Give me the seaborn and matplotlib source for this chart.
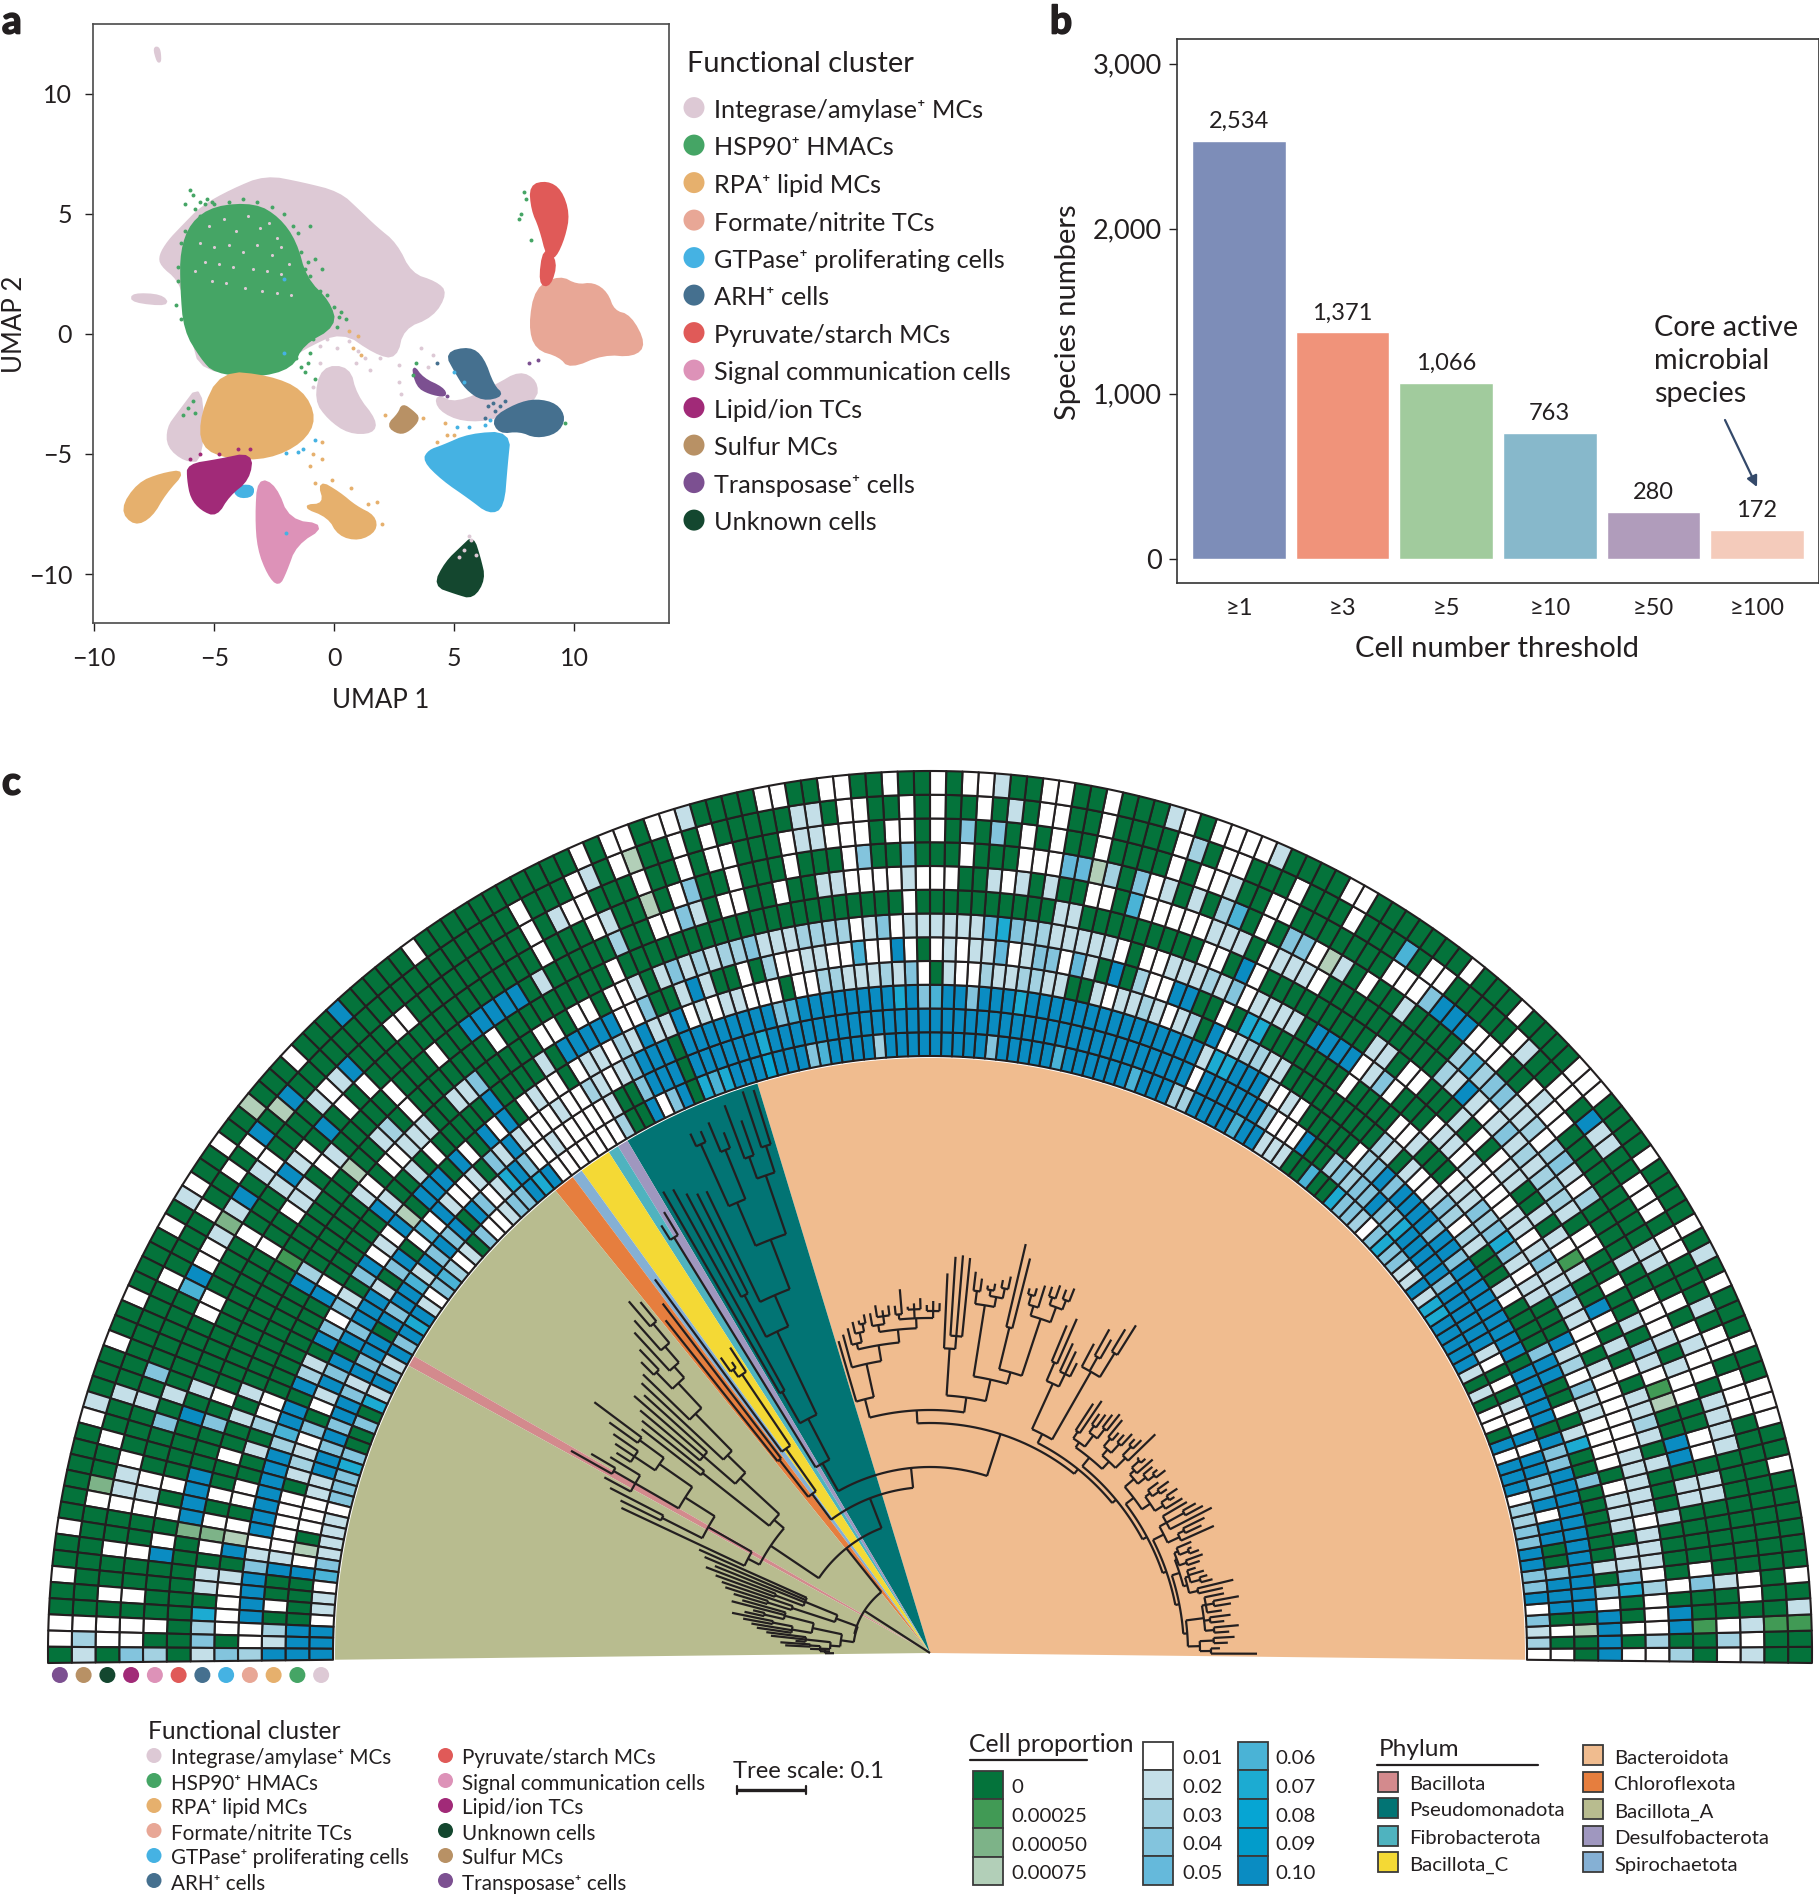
import numpy as np
import pandas as pd
import matplotlib
matplotlib.use("Agg")
import matplotlib.pyplot as plt
import matplotlib.patheffects as pe
import seaborn as sns
from matplotlib.patches import Polygon, Rectangle, Wedge
from matplotlib.collections import PatchCollection, LineCollection

# =========================================================
# CLUSTERS (panel a + both legends)
# =========================================================

CLUSTER_NAMES = ["Integrase/amylase⁺ MCs", "HSP90⁺ HMACs", "RPA⁺ lipid MCs",
                 "Formate/nitrite TCs", "GTPase⁺ proliferating cells", "ARH⁺ cells",
                 "Pyruvate/starch MCs", "Signal communication cells", "Lipid/ion TCs",
                 "Sulfur MCs", "Transposase⁺ cells", "Unknown cells"]
CLUSTER_COLORS = ["#ddc9d5", "#45a565", "#e6b06d", "#e8a796", "#45b2e3", "#45708f",
                  "#e05a58", "#dd92b8", "#a12a78", "#b89165", "#7c5091", "#14472f"]
# which cluster each ring shows, from the tree outwards
RING_CLUSTERS = [0, 1, 2, 3, 4, 5, 6, 7, 8, 11, 9, 10]

INTEGRASE_MAIN = [(-7.25, 3.26), (-6.9, 3.84), (-6.35, 4.42), (-5.5, 5.29), (-4.27, 5.97), (-2.87, 6.55),
                  (-1.34, 6.26), (0.2, 5.87), (1.03, 5.1), (1.73, 4.42), (2.57, 3.74), (3.18, 2.48),
                  (4.24, 2.13), (4.66, 1.7), (4.1, 0.74), (2.85, 0.25), (2.57, -1.0), (1.73, -0.81),
                  (0.33, 0.16), (-1.34, -0.62), (-2.73, -1.59), (-5.52, -1.59), (-5.94, -0.04),
                  (-6.22, 1.51), (-6.5, 2.29), (-7.2, 2.87)]
INTEGRASE_TAIL = [(-8.4, 1.65), (-7.2, 1.6), (-6.9, 1.2), (-8.4, 1.35)]
INTEGRASE_SPECK = [(-7.5, 11.9), (-7.3, 11.9), (-7.25, 11.35), (-7.35, 11.35)]
INTEGRASE_LOWER = [(-6.92, -3.91), (-6.5, -3.33), (-5.5, -2.0), (-5.5, -5.27), (-6.22, -5.27), (-6.92, -4.69)]
INTEGRASE_MID = [(-0.5, -1.4), (0.61, -1.4), (0.89, -2.56), (1.73, -3.62), (1.59, -4.11), (0.61, -4.11),
                 (-0.22, -3.53), (-0.78, -2.75)]
INTEGRASE_RIGHT = [(4.24, -2.56), (5.08, -2.95), (6.75, -2.17), (7.73, -1.59), (8.42, -1.98), (8.42, -2.75),
                   (6.75, -3.53), (5.36, -3.62), (4.38, -3.16)]
HSP90_BODY = [(-5.94, 4.61), (-4.97, 5.29), (-3.29, 5.39), (-2.32, 4.81), (-1.62, 3.84), (-1.2, 2.29),
              (-0.22, 1.32), (0.06, 0.35), (-1.34, -0.43), (-1.76, -1.4), (-3.29, -1.78), (-4.97, -1.59),
              (-5.52, -1.0), (-6.22, 0.16), (-6.36, 1.91), (-6.36, 3.45)]
RPA_MAIN = [(-4.69, -1.59), (-2.73, -1.78), (-1.34, -2.36), (-0.78, -3.53), (-1.34, -4.5), (-2.73, -5.17),
            (-4.41, -5.17), (-5.52, -4.69), (-5.52, -3.33)]
RPA_LEFT = [(-6.22, -5.7), (-7.2, -5.85), (-8.17, -6.24), (-8.87, -7.31), (-8.32, -7.95), (-7.62, -7.6),
            (-7.06, -6.63)]
RPA_RIGHT = [(-0.64, -6.14), (0.2, -6.63), (0.89, -7.21), (1.67, -7.6), (1.73, -8.18), (1.03, -8.57),
             (0.2, -8.37), (-0.22, -7.6), (-1.34, -7.17), (-0.36, -7.11)]
FORMATE = [(8.42, 1.9), (9.4, 2.38), (10.1, 2.0), (10.8, 2.09), (11.35, 1.7), (11.63, 0.93), (12.33, 0.74),
           (12.94, -0.43), (12.47, -0.91), (11.21, -0.81), (9.82, -1.4), (9.4, -0.91), (8.42, -0.62), (8.15, 0.35)]
GTPASE = [(4.52, -4.69), (5.64, -4.2), (7.31, -4.11), (7.17, -5.47), (7.03, -7.21), (6.47, -7.46),
          (5.64, -6.82), (4.52, -6.05), (3.74, -5.27), (3.96, -4.88)]
GTPASE_PATCH = [(-4.2, -6.4), (-3.4, -6.3), (-3.4, -6.75), (-4.0, -6.8)]
ARH_TOP = [(4.66, -0.81), (5.64, -0.58), (6.19, -1.0), (6.61, -2.17), (7.03, -2.56), (6.19, -2.75),
           (5.5, -2.27), (5.08, -1.59)]
ARH_RIGHT = [(7.59, -2.95), (8.42, -2.75), (9.26, -2.95), (9.6, -3.53), (9.26, -4.11), (8.42, -4.3),
             (7.73, -4.01), (6.89, -4.11), (6.61, -3.53)]
PYRUVATE = [(8.18, 6.16), (8.87, 6.32), (9.43, 5.97), (9.76, 5.0), (9.57, 4.03), (9.2, 3.2), (8.9, 3.2), (8.59, 4.42),
            (8.26, 5.17)]
PYRUVATE_TAIL = [(8.75, 3.6), (9.26, 3.0), (8.98, 2.0), (8.56, 2.1)]
SIGNAL = [(-3.15, -6.05), (-2.46, -6.34), (-1.9, -7.79), (-0.36, -7.98), (-1.62, -8.76), (-2.04, -9.92),
          (-2.32, -10.47), (-2.73, -10.02), (-3.15, -8.95), (-3.24, -7.6)]
LIPID = [(-6.08, -5.47), (-4.83, -5.27), (-3.43, -4.98), (-3.57, -6.05), (-4.41, -6.72), (-4.91, -7.56),
         (-5.52, -7.31), (-5.94, -6.82), (-6.08, -6.05)]
SULFUR = [(2.85, -2.95), (3.26, -3.24), (3.54, -3.53), (3.12, -4.01), (2.71, -4.15), (2.23, -3.82), (2.71, -3.33)]
TRANSPOSASE = [(3.26, -1.3), (3.68, -1.88), (4.52, -2.27), (4.66, -2.6), (3.96, -2.46), (3.46, -2.17)]
UNKNOWN = [(5.77, -8.47), (6.05, -9.34), (6.25, -10.21), (5.77, -10.99), (5.08, -10.79), (4.18, -10.47),
           (4.66, -9.53), (5.36, -8.86)]

# stray cells outside the dense parts of the clusters
STRAY_HSP90 = [(-6, 6.0), (-5.9, 5.8), (-5.6, 5.5), (-5.3, 5.6), (-5.1, 5.5), (-6.2, 5.4), (-5.8, 5.2), (-5.4, 5.4),
               (-5.0, 5.4), (-1, 4.5), (-1.5, 4.2), (-0.8, 3.1), (-0.5, 2.7), (-1, 2.4), (0.3, 0.9), (0.5, 0.6),
               (-1, -0.8), (-1.1, -1.2), (-1.2, -1.6), (-0.8, -1.9), (-5.9, -2.8), (-6.1, -3.1), (-6.3, -3.4),
               (-5.8, -3.3), (3.3, -1.7), (3.4, -1.2), (7.9, 5.9), (8.0, 5.6), (7.8, 5.0), (7.7, 4.8), (8.2, 3.9),
               (9.6, -3.7), (-1.4, 3.4), (-1.1, 3.0), (-1.7, 4.5), (-2.1, 5.0), (-2.6, 5.3), (-3.2, 5.5), (-3.8, 5.6),
               (-4.4, 5.5), (-0.9, 1.9), (-0.6, 1.8), (-0.3, 1.6), (0.0, 1.1), (0.2, 0.7), (0.1, 0.3), (-0.9, -0.2),
               (-1.5, -0.6), (-1.6, -1.0), (-1.4, -1.4), (-6.5, 2.8), (-6.5, 2.2), (-6.6, 1.2), (-6.4, 0.6),
               (-6.4, 3.8), (-6.2, 4.3), (-5.6, 4.9), (-2.0, 4.3), (-1.7, 3.0), (-1.2, 2.7)]
STRAY_INTEGRASE = [(-0.6, -0.5), (-0.3, -0.2), (0.1, -0.6), (0.6, -0.3), (1.0, -0.7), (1.3, -1), (0.9, -1.2),
                   (1.5, -1.5), (1.9, -1.0), (2.4, -0.6), (2.7, -1.3), (2.7, -2.0), (2.8, -2.5), (-0.9, -2.2),
                   (-0.6, -1.2), (3.6, -0.6), (4.1, -0.9), (3.9, -1.4), (-8.0, 1.4), (-7.6, 1.5), (5.7, -8.6),
                   (5.4, -9), (5.2, -9.3), (5.9, -9.2), (5.6, -8.4)]
# pale flecks where the upper green part of the cloud thins out
FLECKS_INTEGRASE = [(-5.2, 4.5), (-4.6, 4.8), (-4.1, 4.3), (-3.6, 4.9), (-3.1, 4.4), (-2.7, 4.6), (-2.4, 4.0), (-5.6, 3.8),
                    (-5, 3.6), (-4.4, 3.7), (-3.8, 3.4), (-3.2, 3.7), (-2.6, 3.3), (-2.2, 3.6), (-1.9, 2.9), (-5.4, 3.0),
                    (-4.8, 2.9), (-4.2, 2.8), (-3.4, 2.7), (-2.8, 2.6), (-2.2, 2.5), (-5.8, 2.6), (-5.1, 2.2), (-4.5, 2.1),
                    (-3.7, 1.9), (-3, 1.8), (-2.4, 1.7), (-1.8, 1.6)]
STRAY_RPA = [(0.6, 0.1), (1.0, -0.1), (0.8, -0.6), (1.1, -0.9), (-0.5, -4.5), (-0.9, -5.0), (-1.0, -5.5), (-0.8, -6.2),
             (-0.5, -5.2), (-0.1, -6.1), (0.7, -6.4), (1.4, -7.1), (1.8, -7.0), (2.0, -7.9), (4.6, -3.7), (4.7, -4.2),
             (5.0, -4.2), (4.3, -4.5), (2.1, -3.4), (3.7, -3.5)]
STRAY_GTPASE = [(-0.8, -4.4), (-1.3, -4.8), (-1.5, -4.9), (-2.0, -4.95), (-2.0, -8.3), (5.1, -3.9), (5.6, -3.9),
                (6.3, -3.8), (6.5, -3.6), (5, -1.6), (5.4, -2), (-2.1, 2.3), (-2.1, -0.8)]
STRAY_ARH = [(6.7, -3.2), (6.9, -3.0), (6.4, -3.0), (7.1, -2.8), (6.6, -2.9), (7.1, -3.7), (6.3, -3.5), (4.3, -1.2)]
STRAY_LIPID = [(-6, -5.2), (-5.6, -5), (-4.8, -5.0), (-4, -4.8), (-3.5, -4.8)]
STRAY_TRANSPOSASE = [(8.1, -1.2), (8.5, -1.1), (4.7, -2.6)]

# =========================================================
# PANEL B DATA
# =========================================================

THRESHOLDS = ["≥1", "≥3", "≥5", "≥10", "≥50", "≥100"]
SPECIES_NUMBERS = [2534, 1371, 1066, 763, 280, 172]
BAR_COLORS = ["#7d8db8", "#f0937a", "#a1cb9d", "#87b8cb", "#b09cbb", "#f4cbbb"]

# =========================================================
# PANEL C DATA
# =========================================================

N_SPECIES = 172

PHYLUM_ORDER = ["Bacteroidota", "Pseudomonadota", "Desulfobacterota", "Fibrobacterota", "Bacillota_C",
                "Spirochaetota", "Chloroflexota", "Bacillota_A", "Bacillota", "Bacillota_A"]
PHYLUM_COUNTS = [102, 13, 1, 1, 3, 1, 2, 20, 1, 28]
PHYLUM_COLORS = {"Bacillota": "#d38a8d", "Pseudomonadota": "#027474", "Fibrobacterota": "#4fb3bf",
                 "Bacillota_C": "#f4d935", "Bacteroidota": "#f0bc8f", "Chloroflexota": "#e67e3e",
                 "Bacillota_A": "#b8bc8f", "Desulfobacterota": "#9f97bf", "Spirochaetota": "#85b0d4"}

LEVEL_LABELS = ["0", "0.00025", "0.00050", "0.00075", "0.01", "0.02", "0.03", "0.04", "0.05",
                "0.06", "0.07", "0.08", "0.09", "0.10"]
LEVEL_CODES = "GHIJwlmnopqrsb"
LEVEL_COLORS = ["#04733b", "#419a55", "#7db388", "#b2cfb8", "#ffffff", "#c4dfe8", "#a3d1e1", "#83c4dd",
                "#65b9db", "#4ab3d6", "#1cabd2", "#06a5d3", "#029ccb", "#0a8cc2"]

# rings from the tree outwards, {first species: proportion codes}, unlisted species are 0
RING_1 = {0: "wmlnwbnnbbnnmm", 14: "wbbbwbGwwGlGl", 27: "bbbbbqqlbllnnqnwmnnq", 47: "GGpGG",
          52: "lllbbpbbbbmmbbbpbb", 70: "bbbbpbbbbbnbbbbbbbbbmbbbbpnbbbrbbbqp", 106: "qGbnwbGGmwwwwwwwbqbn",
          126: "nlwwnGlwmpnwlbqbnblnblqGn", 151: "GGnqnnnwllllnpwllwbbb"}
RING_2 = {0: "wGwGbbbnGGbbwbnnbbwbwwlGwGw", 27: "lbbbbbbnbbbbbqnnbnnmnmGGb", 52: "wwwmbbbbbbwbbbbbbb",
          70: "bbbbbbbbbbbbbbbbbbbbbbbbbbbbbbqbbbbb", 106: "bGbbbnGGlwwwwwlwwnbq",
          126: "lwnbGbnbnblpbbnbGbbnblnbb", 151: "nbnbbllwwwGJwbGGGGbbb"}
RING_3 = {0: "GGJGbbbbbbbbbbbbnnbGbbbbbGb", 27: "bbbbbbbbnbbnbbbbnbnmwGGGG", 52: "Gwlwlbbbqqlbbbbbbb",
          70: "bbbbbbbbqbbbnbbpnbqbbbbbbbbpnbbbbbbb", 106: "bGbbbnlwlmwwlwwwlblnGlwwlbwpwGbnGlbbbnbGbnblw",
          151: "GnwlmlGwwwwwlbGGwGmlb"}
RING_4 = {0: "bbbbwmGlGGGGGGnGGqlGwGGbbnG", 27: "GGGwlGGGlmwmnlwwlGlmGGGGG", 52: "GGGGllmmlwbGmlwlml",
          70: "lwlGGllmmllmwwlGwnlmlllmmwwGwwwllwlw", 106: "bllblmwllwGwwlwGbwbGwbGbbbGJbwlwbnGlnwnbGlmbG",
          151: "bbpmbbbbbbbwlnbbbbwwm"}
RING_5 = {0: "wGwGGqnllGlllwGwwwwllnwmlbG", 27: "GGllwlnqnmnllwGGGlwwGGGGw", 52: "GGGGGGGqqGwGGbbwwm",
          70: "GbGlownnlwollwlwGwbwwpwwllwwmGwGGlbl", 106: "GGnww", 111: "bbbbb", 117: "l", 122: "b",
          128: "w", 130: "l", 133: "lb", 141: "wb", 151: "wwmGlGGwwGwJbGlwwwwGn"}
RING_6 = {0: "wmwwwmwlllwlllllwwwwwwlGwwl", 27: "lnllnlwllwwwwlwllwGGGwnlw", 52: "bbbbGllllwnlmlllww",
          70: "Gwlllllmmnqollllllwnlwmmmmlllnmmlmlnl", 106: "lGlwwGwwGwwG", 122: "nll",
          127: "lllww", 133: "wl", 141: "mb", 151: "lGlGGwGGwGwIwGllGqmnl"}
RING_7 = {0: "mGbbGwGGGGlGGGlGlmllGwGlGwb", 27: "GGlHwlGlGGllwGwGlGGGwwGll", 52: "GGGGGGGGGwbGwwGGGG",
          75: "ll", 87: "w", 109: "w", 119: "w", 127: "w", 129: "ml", 133: "J", 141: "H",
          151: "GwGnGGGbbbbIGGGGGGGGG"}
RING_8 = {0: "GGHGGnwGGGGllGbbGGJHwlmGlGG", 27: "wGGwwGlmmmlmlnlwlblmGGGGG", 52: "GGGGGwlllwGlllwwww",
          70: "wpGwwGGlGlwlGGwwwlwwwwllGGwGGwwGlnww", 108: "m", 114: "l", 116: "bbbbb", 123: "w", 127: "w",
          133: "lw", 136: "ll", 138: "w", 141: "w", 151: "GlGbGGGGwGwGwbGGGGwGm"}
RING_9 = {0: "wmwGGlGGGGGllGwwGGwwlGlwwwG", 27: "GlGGGGmwlnmwmllnnmpmGGGGl", 52: "GGwGlJwnnGwGpmGlGl",
          70: "wnGmJoowwwGGGwGGGnGGnwGGGwGGGwGGnwGJ", 108: "lw", 113: "w", 128: "wGw", 132: "bGwlbl", 141: "w",
          146: "ww", 151: "GGlGnGGGwlwGGwGGwGwwn"}
RING_10 = {0: "lwlGwwGGGGGGGGllllGwwlwGwGG", 27: "llGGGGGGGGGwwlwGGwwwbbbnw", 52: "wwGGGGGGGwwGGlwwGw",
           70: "GGGGwGGwGwGnGnGwGwwGwwwllwGGGwwGwGGw", 109: "wwl", 113: "w", 123: "ww", 128: "blwl", 136: "wl",
           139: "blIl", 143: "wwbp", 151: "GnGlGGGwllwGGwGGwGwwG"}
RING_11 = {0: "GGHGGGGGGGGGGGGGwwwGwwGlGGG", 27: "wwGwwwGGllbGwwGGlwGGGGGww", 52: "GpGGGwGGGwGGGwwGmw",
           70: "GGGGwGGwwGlGwGGwGwGGwwGllGGGGGwGwGGJ", 106: "w", 108: "lw", 113: "w", 132: "bJ", 135: "bw", 138: "w",
           141: "w", 146: "w", 151: "GGGlGGwGGIwGGGGGGGwml"}
RING_12 = {2: "Hl", 5: "w", 12: "w", 15: "www", 20: "w", 24: "w", 26: "l", 28: "w", 33: "w", 38: "www", 45: "w",
           49: "w", 57: "ww", 63: "lwwww", 69: "wl", 74: "w", 77: "ww", 81: "lww", 85: "w", 88: "w", 91: "ww",
           95: "ww", 101: "lww", 105: "ww", 108: "w", 120: "w", 126: "b", 130: "w", 134: "J", 137: "w", 140: "wl",
           143: "w", 148: "w", 151: "w", 155: "lw", 163: "w", 166: "w", 169: "ww"}
RINGS = [RING_1, RING_2, RING_3, RING_4, RING_5, RING_6, RING_7, RING_8, RING_9, RING_10, RING_11, RING_12]

# the tree: a clade is [node radius, children...], a leaf is its tip radius, all in pixels from the root
LADDER_END = [258, [270, [281, 327, 290], [284, 298, 305]], [276, [285, 300, 310], [282, 296, 303],
                                                            [280, 295, [288, 305, 314], 300]]]
CLADE_4 = [262, [266, [275, 300, 312], [270, [280, 292, 288], 286, 279]], [264, [272, 285, 290], [268, [278, 288, 282], 284]]]
CLADE_3 = [262, [275, 311, [282, 300, 306]], [270, 317, [290, 310, 305], 298]]
CLADE_2 = [256, [266, [276, 296, [284, 290, 297]], [272, [280, 288, 294], 285]],
           [268, [278, [286, 298, 292], 290], [274, 295, [284, 290, 286]]]]
CLADE_1 = [252, [262, [276, 314, [288, 300, 296]], [270, [282, 298, 292], [280, 290, 302]]],
           [258, [272, [284, 305, 300], [280, 296, 293]], [266, 305, 298]]]
CLADE_60 = [246, [324, [352, 387, 378], [340, 362, 370], 350], [296, [310, 325, 335, 341], [316, 365, 355]]]
CLADE_B = [258, [280, [292, [352, [368, [378, 392, 388], [376, 390, 386]], [362, 385, [372, 380, 378]]], [335, 407, 420]],
                 [352, [362, [372, 385, 380], [368, 375, 372]], [365, 378, 384]]],
           [305, [318, 397, 399, 397], 380]]
CLADE_A = [262, [296, [312, [325, [335, [342, 350, 352, 348], [344, 355, 350, 347], [340, 365, 349]],
                             [332, [340, 350, 346, 352], 345]],
                       [318, [328, [336, 345, 340], 340], 335]], 330], 325]
BACTEROIDOTA = [230, [236, [241, [246, [250, [254, LADDER_END, CLADE_4], CLADE_3], CLADE_2], CLADE_1], CLADE_60],
                [243, CLADE_B, CLADE_A]]
PSEUDOMONADOTA = [264, [356, [390, [443, [505, [533, 590, 592], [528, 565, 585]], [490, [543, 560, 575], [558, 570, 572]]], 513],
                        [403, 515, 520]], [300, 530, 533]]
DESULFO_FIBRO = [488, 515, 505]
YELLOW_GROUP = [198, [250, [336, 365, [345, 352, 362]], 464], [245, 440, 425]]
UPPER_1 = [205, [258, [283, [335, [369, [384, [405, [430, 455, 463], 445], 436], [392, 420, 410]], 400], 395],
                 [300, 385, 392, 378]], [290, 370, 365]]
UPPER_2 = [205, [255, [290, [330, [360, 419, 395], [355, 385, 378, 372]], [340, 375, [365, 393, 412], 370]],
                 [300, 360, 345]], 341]
LOWER_A = [77, [100, [135, 253, 245, 232, [165, 240, 228]], [145, 220, [170, 215, 205]]],
           [90, [120, [150, 195, 205, [170, 182, 190]], [140, [160, 202, 190], 181, 175]],
            [100, [125, 165, 160, 135], [110, [120, 150, 145], [105, 120, 100, 96]]]]]
TREE = [78, [134, [166, [186, BACTEROIDOTA, [218, PSEUDOMONADOTA, DESULFO_FIBRO]], YELLOW_GROUP],
             [192, UPPER_1, UPPER_2]], LOWER_A]

# =========================================================
# LAYOUT (pixels of the 1819x1897 figure)
# =========================================================

WIDTH, HEIGHT = 1819, 1897
CENTER_X, CENTER_Y = 930, HEIGHT - 1653
INNER_R, OUTER_R = 597, 882
START_ANGLE = -0.65
STEP_ANGLE = 181.3 / N_SPECIES
INK = "#231f20"
FONT = ["Lato", "DejaVu Sans"]

sns.set_theme(style="white")
plt.rcParams["font.family"] = FONT
plt.rcParams["text.color"] = INK
plt.rcParams["axes.labelcolor"] = INK
plt.rcParams["xtick.color"] = INK
plt.rcParams["ytick.color"] = INK

fig = plt.figure(figsize=(WIDTH / 100, HEIGHT / 100), dpi=100)

base = fig.add_axes([0, 0, 1, 1])
base.set_xlim(0, WIDTH)
base.set_ylim(0, HEIGHT)
base.axis("off")


def put_text(x, y, text, size, **kwargs):
    kwargs.setdefault("va", "center")
    base.text(x, HEIGHT - y, text, fontsize=size, **kwargs)


def put_dots(xs, ys, colors, diameter, zorder=5):
    base.scatter(xs, [HEIGHT - y for y in ys], s=(diameter * 0.72) ** 2, c=colors, linewidths=0, zorder=zorder)


def rounded(outline, passes=2):
    # corner cutting, so the read-off outlines do not look like polygons
    points = np.array(outline, dtype=float)
    for _ in range(passes):
        following = np.roll(points, -1, axis=0)
        points = np.column_stack([0.75 * points + 0.25 * following, 0.25 * points + 0.75 * following]).reshape(-1, 2)
    return points


# =========================================================
# PANEL A
# =========================================================

ax_a = fig.add_axes([93 / WIDTH, 1 - 623 / HEIGHT, 576 / WIDTH, 599 / HEIGHT])
ax_a.set_facecolor("none")
shapes = [(INTEGRASE_SPECK, 0), (INTEGRASE_TAIL, 0), (INTEGRASE_MAIN, 0), (INTEGRASE_LOWER, 0),
          (INTEGRASE_MID, 0), (INTEGRASE_RIGHT, 0), (HSP90_BODY, 1),
          (RPA_MAIN, 2), (RPA_LEFT, 2), (RPA_RIGHT, 2), (FORMATE, 3), (GTPASE, 4), (GTPASE_PATCH, 4),
          (ARH_TOP, 5), (ARH_RIGHT, 5), (PYRUVATE, 6), (PYRUVATE_TAIL, 6), (LIPID, 8), (SIGNAL, 7),
          (SULFUR, 9), (TRANSPOSASE, 10), (UNKNOWN, 11)]
for outline, cluster in shapes:
    ax_a.add_patch(Polygon(rounded(outline), closed=True, facecolor=CLUSTER_COLORS[cluster],
                           edgecolor=CLUSTER_COLORS[cluster], linewidth=2.0, joinstyle="round"))

strays = [(STRAY_HSP90, 1, 8), (FLECKS_INTEGRASE, 0, 5), (STRAY_INTEGRASE, 0, 8), (STRAY_RPA, 2, 8), (STRAY_GTPASE, 4, 8),
          (STRAY_ARH, 5, 8), (STRAY_LIPID, 8, 8), (STRAY_TRANSPOSASE, 10, 8)]
for points, cluster, size in strays:
    sns.scatterplot(x=[p[0] for p in points], y=[p[1] for p in points], color=CLUSTER_COLORS[cluster], s=size,
                    linewidth=0, legend=False, ax=ax_a, zorder=4)

ax_a.set_xlim(-10.05, 13.95)
ax_a.set_ylim(-12.04, 12.9)
ax_a.set_xticks([-10, -5, 0, 5, 10])
ax_a.set_yticks([-10, -5, 0, 5, 10])
ax_a.tick_params(left=True, bottom=True, length=6, width=1, labelsize=18)
ax_a.tick_params(axis="x", pad=11)
ax_a.tick_params(axis="y", pad=9)
for spine in ax_a.spines.values():
    spine.set_color("#4a4a4a")
    spine.set_linewidth(1.2)

put_text(381, 700, "UMAP 1", 18.5, ha="center")
put_text(15, 324, "UMAP 2", 18.5, ha="center", rotation=90)
put_text(687, 64, "Functional cluster", 20.9)
legend_ys = [107.6 + 37.5 * i for i in range(12)]
put_dots([694] * 12, legend_ys, CLUSTER_COLORS, 21)
for y, name in zip(legend_ys, CLUSTER_NAMES):
    put_text(714, y + 2.5, name, 18.2)

# =========================================================
# PANEL B
# =========================================================

ax_b = fig.add_axes([1177 / WIDTH, 1 - 583 / HEIGHT, 642 / WIDTH, 544 / HEIGHT])
ax_b.set_facecolor("none")
bars = pd.DataFrame({"threshold": THRESHOLDS, "species": SPECIES_NUMBERS})
sns.barplot(data=bars, x="threshold", y="species", hue="threshold", palette=BAR_COLORS, saturation=1, width=0.904,
            legend=False, ax=ax_b)
for i, value in enumerate(SPECIES_NUMBERS):
    ax_b.text(i, value + 55, f"{value:,}", ha="center", va="bottom", fontsize=17)
ax_b.set_xlim(-0.6, 5.6)
ax_b.set_ylim(-148, 3150)
ax_b.set_yticks([0, 1000, 2000, 3000])
ax_b.set_yticklabels(["0", "1,000", "2,000", "3,000"])
ax_b.set_xlabel("")
ax_b.set_ylabel("")
ax_b.tick_params(axis="y", left=True, length=6, width=1, labelsize=19.5, pad=5)
ax_b.tick_params(axis="x", bottom=False, labelsize=17, pad=5)
for spine in ax_b.spines.values():
    spine.set_color("#333333")
    spine.set_linewidth(1.2)

put_text(1497, 649, "Cell number threshold", 21, ha="center")
put_text(1068, 312, "Species numbers", 21, ha="center", rotation=90)
put_text(1654, 328, "Core active", 20.7)
put_text(1654, 361, "microbial", 20.7)
put_text(1654, 394, "species", 20.7)
base.annotate("", xy=(1757, HEIGHT - 487), xytext=(1725, HEIGHT - 420),
              arrowprops=dict(arrowstyle="-|>", color="#34496a", lw=1.6, mutation_scale=16, shrinkA=0, shrinkB=0))

# =========================================================
# PANEL C: phylum sectors, heat rings, tree
# =========================================================

first = 0
for phylum, count in zip(PHYLUM_ORDER, PHYLUM_COUNTS):
    theta1 = START_ANGLE + first * STEP_ANGLE
    theta2 = START_ANGLE + (first + count) * STEP_ANGLE
    base.add_patch(Wedge((CENTER_X, CENTER_Y), INNER_R - 2, theta1, theta2, facecolor=PHYLUM_COLORS[phylum],
                         edgecolor="none", zorder=1))
    first += count

code_to_color = dict(zip(LEVEL_CODES, LEVEL_COLORS))
ring_width = (OUTER_R - INNER_R) / len(RINGS)
wedges = []
cell_colors = []
for ring_index, ring in enumerate(RINGS):
    codes = ["G"] * N_SPECIES
    for start, text in ring.items():
        for offset, code in enumerate(text):
            if start + offset < N_SPECIES:
                codes[start + offset] = code
    outer = INNER_R + (ring_index + 1) * ring_width
    for species, code in enumerate(codes):
        theta1 = START_ANGLE + species * STEP_ANGLE
        wedges.append(Wedge((CENTER_X, CENTER_Y), outer, theta1, theta1 + STEP_ANGLE, width=ring_width))
        cell_colors.append(code_to_color[code])
base.add_collection(PatchCollection(wedges, facecolor=cell_colors, edgecolor=INK, linewidth=1.5, zorder=2))

tree_lines = []
next_leaf = [0]


def polar_point(radius, angle):
    return CENTER_X + radius * np.cos(np.radians(angle)), CENTER_Y + radius * np.sin(np.radians(angle))


def draw_clade(node, parent_radius):
    if not isinstance(node, list):
        angle = START_ANGLE + (next_leaf[0] + 0.5) * STEP_ANGLE
        next_leaf[0] += 1
        tree_lines.append([polar_point(parent_radius, angle), polar_point(node, angle)])
        return angle
    radius = node[0]
    angles = [draw_clade(child, radius) for child in node[1:]]
    arc = np.linspace(min(angles), max(angles), 30)
    tree_lines.append([polar_point(radius, a) for a in arc])
    angle = (min(angles) + max(angles)) / 2
    tree_lines.append([polar_point(parent_radius, angle), polar_point(radius, angle)])
    return angle


draw_clade(TREE, 0)
base.add_collection(LineCollection(tree_lines, colors=INK, linewidths=1.6, zorder=3))

# order of the rings under the left end
dot_xs = [CENTER_X - (INNER_R + (i + 0.5) * ring_width) for i in range(len(RINGS))]
put_dots(dot_xs, [1675] * len(RINGS), [CLUSTER_COLORS[c] for c in RING_CLUSTERS], 16)

# =========================================================
# PANEL C LEGENDS
# =========================================================

put_text(148, 1731.5, "Functional cluster", 17.7)
c_rows = [1755.5, 1780.5, 1805.5, 1830.5, 1855.5, 1880.5]
put_dots([154] * 6 + [445.5] * 6, c_rows + c_rows, CLUSTER_COLORS[:6] + [CLUSTER_COLORS[i] for i in (6, 7, 8, 11, 9, 10)], 15)
for y, name in zip(c_rows, CLUSTER_NAMES[:6]):
    put_text(171, y + 3, name, 14.9)
for y, i in zip(c_rows, (6, 7, 8, 11, 9, 10)):
    put_text(462, y + 3, CLUSTER_NAMES[i], 14.9)

put_text(733, 1772, "Tree scale: 0.1", 17.1)
base.plot([737, 806], [HEIGHT - 1790] * 2, color=INK, lw=2.4, solid_capstyle="butt")
base.plot([737, 737], [HEIGHT - 1786, HEIGHT - 1794], color=INK, lw=1.6)
base.plot([806, 806], [HEIGHT - 1786, HEIGHT - 1794], color=INK, lw=1.6)

put_text(969, 1745, "Cell proportion", 17.8)
base.plot([970, 1087], [HEIGHT - 1760] * 2, color=INK, lw=1.6)


def swatch_column(x0, x1, text_x, y0, cell_h, levels):
    for row, level in enumerate(levels):
        top = y0 + row * cell_h
        base.add_patch(Rectangle((x0, HEIGHT - top - cell_h), x1 - x0, cell_h, facecolor=LEVEL_COLORS[level],
                                 edgecolor="#3a3a3a", linewidth=1.3))
        put_text(text_x, top + cell_h / 2 + 3, LEVEL_LABELS[level], 14.7)


swatch_column(973, 1003, 1011, 1770.5, 28.7, [0, 1, 2, 3])
swatch_column(1143, 1173, 1182, 1741.5, 28.7, [4, 5, 6, 7, 8])
swatch_column(1238, 1268, 1275, 1741.5, 28.7, [9, 10, 11, 12, 13])

put_text(1379, 1750, "Phylum", 17.6)
base.plot([1377, 1538], [HEIGHT - 1765] * 2, color=INK, lw=1.6)
phylum_col_1 = ["Bacillota", "Pseudomonadota", "Fibrobacterota", "Bacillota_C"]
phylum_col_2 = ["Bacteroidota", "Chloroflexota", "Bacillota_A", "Desulfobacterota", "Spirochaetota"]
for name, y in zip(phylum_col_1, [1781.5, 1808, 1836, 1862]):
    base.add_patch(Rectangle((1378, HEIGHT - y - 10), 20, 20, facecolor=PHYLUM_COLORS[name], edgecolor="#3a3a3a", linewidth=1.3))
    put_text(1409, y + 3, name, 14.6)
for name, y in zip(phylum_col_2, [1755, 1781.5, 1809, 1836, 1862]):
    base.add_patch(Rectangle((1583, HEIGHT - y - 10), 20, 20, facecolor=PHYLUM_COLORS[name], edgecolor="#3a3a3a", linewidth=1.3))
    put_text(1614, y + 3, name, 14.6)

# panel letters
letter_stroke = [pe.withStroke(linewidth=1.2, foreground=INK)]
put_text(2, 22, "a", 28, fontweight="bold", path_effects=letter_stroke)
put_text(1050, 22, "b", 28, fontweight="bold", path_effects=letter_stroke)
put_text(2, 783, "c", 28, fontweight="bold", path_effects=letter_stroke)

fig.savefig("out.png", dpi=100)
